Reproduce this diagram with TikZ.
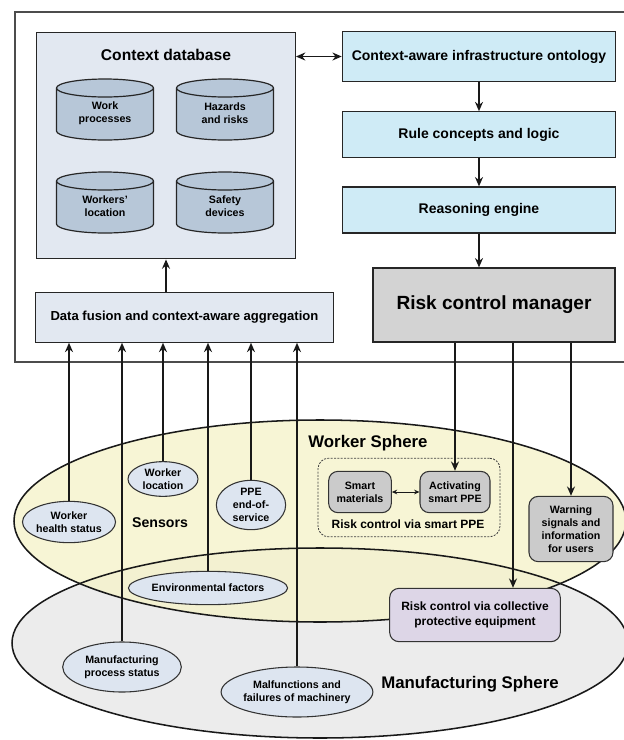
\documentclass[tikz,border=0pt]{standalone}
\usepackage{fontspec}
\setmainfont{Liberation Sans}
\usetikzlibrary{shapes.geometric,arrows.meta,positioning}
\definecolor{dbfill}{HTML}{E2E8F1}
\definecolor{cylfill}{HTML}{B7C7D8}
\definecolor{cyanfill}{HTML}{CFEBF6}
\definecolor{mgrfill}{HTML}{D3D3D3}
\definecolor{wfill}{HTML}{F5F3CB}
\definecolor{mfill}{HTML}{ECECEC}
\definecolor{sensfill}{HTML}{DDE5F0}
\definecolor{actfill}{HTML}{CBCBCB}
\definecolor{cpefill}{HTML}{DDD6E7}
\begin{document}
\begin{tikzpicture}[x=0.75pt, y=-0.75pt, >={Stealth[length=7pt,width=6pt]},
    box/.style={rectangle, draw=black!85, line width=0.9pt, align=center,
      inner sep=2pt, font=\bfseries\fontsize{10.5}{12}\selectfont},
    cylline/.style={draw=black!85, line width=0.9pt, fill=cylfill},
    cyl/.style={align=center, inner sep=1pt,
      font=\bfseries\fontsize{8}{9.8}\selectfont},
    sensor/.style={ellipse, draw=black!80, line width=0.8pt, fill=sensfill,
      align=center, inner sep=0pt, font=\bfseries\fontsize{8}{9.8}\selectfont},
    act/.style={rectangle, rounded corners=7pt, draw=black!80, line width=0.8pt,
      align=center, inner sep=1pt, font=\bfseries\fontsize{8}{9.6}\selectfont},
    sphere/.style={font=\bfseries\fontsize{12.6}{14}\selectfont},
    conn/.style={draw=black!90, line width=1.15pt}]
  \useasboundingbox (0,0) rectangle (624,740);

  \fill[mfill] (320,643) ellipse [x radius=308, y radius=95];
  \fill[wfill, opacity=0.8] (320,521) ellipse [x radius=306, y radius=101];
  \draw[conn] (320,643) ellipse [x radius=308, y radius=95];
  \draw[conn] (320,521) ellipse [x radius=306, y radius=101];

  \draw[draw=black!70, line width=1.4pt] (630,12) -- (15,12) -- (15,362) --
  (630,362);

  \node[box, fill=dbfill, minimum width=194pt, minimum height=170pt] (ctxdb)
    at (166,145.5) {};
  \node[font=\bfseries\fontsize{11.7}{13}\selectfont] (dbtitle) at (166,55)
    {Context database};
  \foreach \cx/\cy in {105/109.5, 225/109.5, 105/202.5, 225/202.5} {
    \filldraw[cylline] (\cx-48.5,\cy-21.5) arc[start angle=180,
      end angle=360, x radius=48.5, y radius=9] -- (\cx+48.5,\cy+21.5)
      arc[start angle=0, end angle=180, x radius=48.5, y radius=9] -- cycle;
    \draw[cylline] (\cx+48.5,\cy-21.5) arc[start angle=0, end angle=180,
      x radius=48.5, y radius=9];
  }
  \begin{scope}[every node/.style={cyl}]
    \node (work) at (105,113.5) {Work\\processes}; \node (hazard) at
    (225,113.5) {Hazards\\and risks}; \node (wloc) at (105,206.5)
    {Workers'\\location}; \node (safety) at (225,206.5) {Safety\\devices};
  \end{scope}

  \node[box, fill=dbfill, minimum width=223pt, minimum height=37pt,
    font=\bfseries\fontsize{9.8}{11}\selectfont] (fusion) at (184.5,317.5)
    {Data fusion and context-aware aggregation};

  \begin{scope}[every node/.style={box, fill=cyanfill, minimum width=205pt}]
    \node[minimum height=37pt] (onto) at (479,56.5)
    {Context-aware infrastructure ontology}; \node[minimum height=34pt]
    (rule) at (479,134.5) {Rule concepts and logic};
    \node[minimum height=34.5pt] (reason) at (479,210) {Reasoning engine};
  \end{scope}
  \node[box, fill=mgrfill, minimum width=181.5pt, minimum height=55.5pt,
    font=\bfseries\fontsize{14.3}{16}\selectfont] (mgr) at (494,305)
    {Risk control manager};

  \begin{scope}[every node/.style={sensor}]
    \node[minimum width=66pt, minimum height=31pt] (health) at (69,522)
    {Worker\\health status}; \node[minimum width=52.5pt, minimum
    height=26pt] (loc) at (163,479) {Worker\\location};
    \node[minimum width=52pt, minimum height=37pt] (ppe) at (251,505)
    {PPE\\end-of-\\service}; \node[minimum width=111pt, minimum
    height=25pt] (env) at (208,588) {Environmental factors};
    \node[minimum width=89pt, minimum height=37.5pt] (proc) at (122,667)
    {Manufacturing\\process status}; \node[minimum width=103pt, minimum
    height=37.5pt] (malf) at (297,692) {Malfunctions and\\failures of
      machinery};
  \end{scope}

  \node[font=\bfseries\fontsize{10.6}{12}\selectfont] (sensors) at (160,523)
  {Sensors};
  \node[sphere] (wsph) at (368,443) {Worker Sphere};
  \node[sphere] (msph) at (470,684) {Manufacturing Sphere};

  \node[rectangle, rounded corners=8pt, draw=black!75,
    dash pattern=on 1.5pt off 1pt, line width=0.6pt, minimum width=136.5pt,
    minimum height=59pt] (ppebox) at (409,497.5) {};
  \node[font=\bfseries\fontsize{9}{10}\selectfont] (ppelbl) at (408,524)
  {Risk control via smart PPE};
  \begin{scope}[every node/.style={act, fill=actfill}]
    \node[minimum width=47pt, minimum height=31pt] (smart) at (360,492)
    {Smart\\materials}; \node[minimum width=52.5pt, minimum height=31pt]
    (activ) at (455,492) {Activating\\smart PPE};
    \node[minimum width=63pt, minimum height=49pt] (warn) at (571,529)
    {Warning\\signals and\\information\\for users};
  \end{scope}
  \node[act, fill=cpefill, minimum width=128pt, minimum height=40pt,
    font=\bfseries\fontsize{9}{11}\selectfont] (cpe) at (475,615)
  {Risk control via collective\\protective equipment};

  \begin{scope}[->, conn]
    \draw[<->] (ctxdb.east |- onto) -- (onto.west); \draw (onto) -- (rule);
    \draw (rule) -- (reason); \draw (reason.south) -- (reason.south |-
    mgr.north); \draw (fusion.north -| ctxdb.south) -- (ctxdb.south);
    \foreach \s in {health, loc, ppe, env, proc, malf}
      \draw (\s.north) -- (\s.north |- fusion.south);
    \coordinate (cpeout) at ([xshift=14.25pt]mgr.south);
    \draw (mgr.south -| activ) -- (activ.north); \draw (cpeout) --
    (cpeout |- cpe.north); \draw (mgr.south -| warn) -- (warn.north);
    \draw[<->, >={Stealth[length=4pt,width=3.5pt]}, line width=0.6pt]
    (smart) -- (activ);
  \end{scope}
\end{tikzpicture}
\end{document}
